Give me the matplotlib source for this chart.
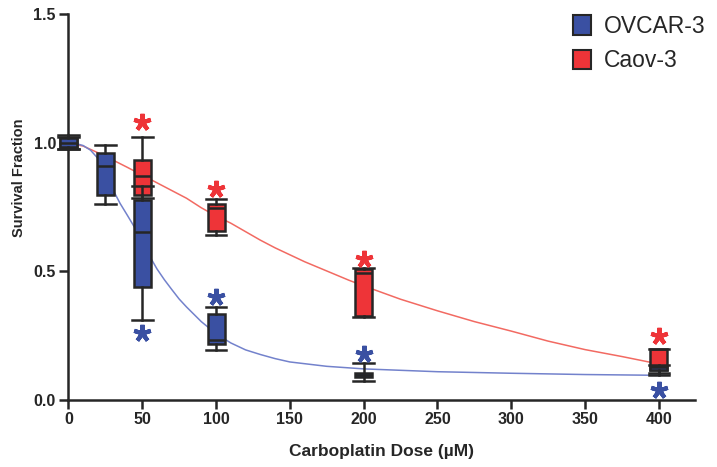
import matplotlib
matplotlib.use('Agg')
import matplotlib.pyplot as plt
from matplotlib.patches import Patch

plt.rcParams['font.family'] = ['Liberation Sans', 'DejaVu Sans']

# ---------------- data ----------------
ovcar_doses = [0, 25, 50, 100, 200, 400]
ovcar_whislo = [0.975, 0.763, 0.311, 0.193, 0.074, 0.097]
ovcar_q1 = [0.985, 0.798, 0.441, 0.218, 0.088, 0.118]
ovcar_med = [1.000, 0.912, 0.652, 0.233, 0.097, 0.127]
ovcar_q3 = [1.018, 0.962, 0.778, 0.334, 0.106, 0.133]
ovcar_whishi = [1.030, 0.993, 0.833, 0.361, 0.143, 0.136]

caov_doses = [0, 50, 100, 200, 400]
caov_whislo = [0.975, 0.786, 0.642, 0.324, 0.105]
caov_q1 = [0.985, 0.798, 0.656, 0.326, 0.115]
caov_med = [1.000, 0.873, 0.748, 0.493, 0.120]
caov_q3 = [1.015, 0.934, 0.763, 0.510, 0.198]
caov_whishi = [1.025, 1.025, 0.782, 0.514, 0.200]

# fitted curves
ovcar_fit_x = [0, 5, 10, 15, 20, 25, 30, 35, 40, 45, 50, 55, 60, 65, 70, 75, 80,
               90, 100, 110, 120, 130, 140, 150, 175, 200, 250, 300, 350, 400]
ovcar_fit_y = [1.000, 0.998, 0.990, 0.972, 0.940, 0.885, 0.820, 0.765, 0.718, 0.670,
               0.615, 0.560, 0.510, 0.468, 0.430, 0.393, 0.362, 0.305, 0.258, 0.222,
               0.195, 0.177, 0.161, 0.148, 0.131, 0.121, 0.110, 0.104, 0.099, 0.096]
caov_fit_x = [0, 10, 20, 30, 40, 50, 60, 70, 80, 90, 100, 110, 120, 130, 140, 150,
              160, 170, 180, 190, 200, 225, 250, 275, 300, 325, 350, 375, 400]
caov_fit_y = [1.000, 0.988, 0.962, 0.934, 0.905, 0.875, 0.845, 0.815, 0.785, 0.748,
              0.716, 0.688, 0.655, 0.622, 0.592, 0.565, 0.538, 0.514, 0.490, 0.466,
              0.444, 0.392, 0.347, 0.305, 0.268, 0.229, 0.196, 0.169, 0.140]

star_doses = [50, 100, 200, 400]
caov_star_y = [1.08, 0.82, 0.55, 0.25]
ovcar_star_y = [0.26, 0.40, 0.18, 0.04]

x_ticks = [0, 50, 100, 150, 200, 250, 300, 350, 400]
y_ticks = [0.0, 0.5, 1.0, 1.5]
y_tick_labels = ['0.0', '0.5', '1.0', '1.5']
series_names = ['OVCAR-3', 'Caov-3']

# ---------------- style ----------------
BLUE = '#3A50A2'
RED = '#EE3438'
BLUE_LINE = '#7382CC'
RED_LINE = '#F26A62'
DARK = '#262626'

fig = plt.figure(figsize=(7.17, 4.67), dpi=100)
ax = fig.add_axes([0.0954, 0.1435, 0.874, 0.8255])

ax.plot(caov_fit_x, caov_fit_y, color=RED_LINE, lw=1.1, zorder=1)
ax.plot(ovcar_fit_x, ovcar_fit_y, color=BLUE_LINE, lw=1.1, zorder=1)


def stats(wlo, q1, med, q3, whi):
    return [dict(whislo=a, q1=b, med=c, q3=d, whishi=e, fliers=[])
            for a, b, c, d, e in zip(wlo, q1, med, q3, whi)]


def draw(st, pos, color, z):
    lw = 1.8
    res = ax.bxp(st, positions=pos, widths=11.5, capwidths=14, patch_artist=True,
                 showfliers=False, manage_ticks=False, zorder=z,
                 boxprops=dict(facecolor=color, edgecolor=DARK, linewidth=lw),
                 medianprops=dict(color=DARK, linewidth=lw),
                 whiskerprops=dict(color=DARK, linewidth=lw),
                 capprops=dict(color=DARK, linewidth=lw))
    for k in res:
        for a in res[k]:
            a.set_clip_on(False)


draw(stats(caov_whislo, caov_q1, caov_med, caov_q3, caov_whishi), caov_doses, RED, 3)
draw(stats(ovcar_whislo, ovcar_q1, ovcar_med, ovcar_q3, ovcar_whishi), ovcar_doses, BLUE, 4)

ax.plot(star_doses, caov_star_y, ls='none', marker=(5, 2, 0), ms=12.5, mew=3.0,
        color=RED, zorder=5, clip_on=False)
ax.plot(star_doses, ovcar_star_y, ls='none', marker=(5, 2, 0), ms=12.5, mew=3.0,
        color=BLUE, zorder=5, clip_on=False)

ax.set_xlim(0, 424.5)
ax.set_ylim(0, 1.5)
ax.set_xticks(x_ticks)
ax.set_xticklabels([str(v) for v in x_ticks])
ax.set_yticks(y_ticks)
ax.set_yticklabels(y_tick_labels)

for s in ['top', 'right']:
    ax.spines[s].set_visible(False)
for s in ['left', 'bottom']:
    ax.spines[s].set_linewidth(1.8)
    ax.spines[s].set_color(DARK)
ax.tick_params(direction='out', length=6.5, width=1.8, color=DARK,
               labelsize=11.5, labelcolor=DARK, pad=2.5)
for lab in ax.get_xticklabels() + ax.get_yticklabels():
    lab.set_fontweight('bold')

ax.set_xlabel('Carboplatin Dose (µM)', fontsize=12.5, fontweight='bold', color=DARK,
              labelpad=12)
ax.set_ylabel('Survival Fraction', fontsize=10.5, fontweight='bold', color=DARK)
ax.yaxis.set_label_coords(-0.0677, 0.576)

handles = [Patch(facecolor=BLUE, edgecolor=DARK, linewidth=1.5),
           Patch(facecolor=RED, edgecolor=DARK, linewidth=1.5)]
leg = ax.legend(handles, series_names, loc='upper left',
                bbox_to_anchor=(573 / 717, 1 - 15 / 467), bbox_transform=fig.transFigure,
                frameon=False, fontsize=16.5, handlelength=0.8, handleheight=0.95,
                handletextpad=0.55, labelspacing=0.5, borderpad=0, borderaxespad=0)
for t in leg.get_texts():
    t.set_color(DARK)

fig.savefig('out.png', dpi=100)
